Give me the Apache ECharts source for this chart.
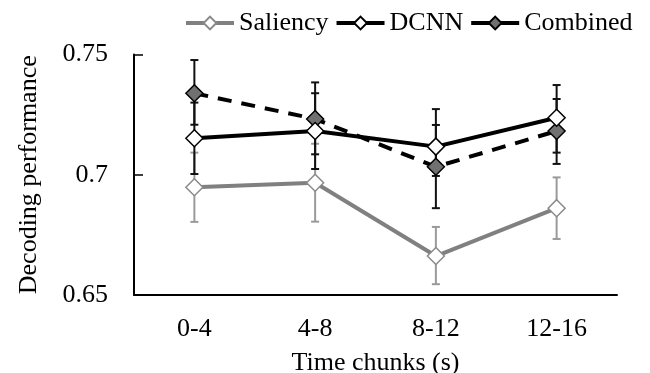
<!DOCTYPE html>
<html>
<head>
<meta charset="utf-8">
<script src="https://cdn.jsdelivr.net/npm/echarts@6/dist/echarts.min.js"></script>
<style>
  html, body { margin: 0; padding: 0; background: #fff; }
  #chart { width: 650px; height: 373px; }
</style>
</head>
<body>
<div id="chart"></div>
<script>
// data
const categories = ['0-4', '4-8', '8-12', '12-16'];

const saliency = [0.6948, 0.6967, 0.6662, 0.6861];
const saliencyLow = [0.6804, 0.6805, 0.6545, 0.6733];
const saliencyHigh = [0.7092, 0.7129, 0.6783, 0.6989];

const dcnn = [0.7152, 0.7182, 0.7117, 0.7237];
const dcnnLow = [0.7003, 0.7024, 0.6995, 0.7092];
const dcnnHigh = [0.7300, 0.7339, 0.7273, 0.7373];

const combined = [0.7339, 0.7232, 0.7033, 0.7182];
const combinedLow = [0.7208, 0.7085, 0.6861, 0.7045];
const combinedHigh = [0.7477, 0.7384, 0.7207, 0.7315];

const yTicks = { min: 0.65, max: 0.75, interval: 0.05 };

const FONT = '"Liberation Serif", "Times New Roman", serif';

function errorSeries(name, low, high, color) {
  return {
    type: 'custom',
    name: name + ' err',
    z: 1,
    silent: true,
    data: categories.map((c, i) => [i, low[i], high[i]]),
    renderItem: function (params, api) {
      const lo = api.coord([api.value(0), api.value(1)]);
      const hi = api.coord([api.value(0), api.value(2)]);
      const cap = 4;
      const style = { stroke: color, lineWidth: 2 };
      return {
        type: 'group',
        children: [
          { type: 'line', shape: { x1: lo[0], y1: lo[1], x2: hi[0], y2: hi[1] }, style },
          { type: 'line', shape: { x1: lo[0] - cap, y1: lo[1], x2: lo[0] + cap, y2: lo[1] }, style },
          { type: 'line', shape: { x1: hi[0] - cap, y1: hi[1], x2: hi[0] + cap, y2: hi[1] }, style }
        ]
      };
    }
  };
}

const chart = echarts.init(document.getElementById('chart'));

const option = {
  animation: false,
  backgroundColor: '#fff',
  textStyle: { fontFamily: FONT },
  legend: {
    left: 179,
    top: 5,
    itemGap: 6,
    itemWidth: 48,
    itemHeight: 16,
    textStyle: { fontFamily: FONT, fontSize: 26, color: '#000' },
    data: [
      { name: 'Saliency', lineStyle: { width: 4 } },
      { name: 'DCNN', lineStyle: { width: 4 } },
      { name: 'Combined', lineStyle: { type: 'solid', width: 4 } }
    ]
  },
  grid: { left: 134, right: 33, top: 54.5, bottom: 78, outerBoundsMode: 'none' },
  xAxis: {
    type: 'category',
    data: categories,
    boundaryGap: true,
    name: 'Time chunks (s)',
    nameLocation: 'middle',
    nameGap: 55,
    nameTextStyle: { fontFamily: FONT, fontSize: 26, color: '#000' },
    axisLine: { lineStyle: { color: '#000', width: 2 } },
    axisTick: { inside: true, length: 8, lineStyle: { color: '#000', width: 1.5 } },
    axisLabel: { fontFamily: FONT, fontSize: 26, color: '#000', margin: 21 },
    splitLine: { show: false }
  },
  yAxis: {
    type: 'value',
    min: yTicks.min,
    max: yTicks.max,
    interval: yTicks.interval,
    name: 'Decoding performance',
    nameLocation: 'middle',
    nameGap: 92,
    nameTextStyle: { fontFamily: FONT, fontSize: 26, color: '#000' },
    axisLine: { show: true, lineStyle: { color: '#000', width: 2 } },
    axisTick: { show: true, inside: true, length: 9, lineStyle: { color: '#000', width: 1.5 } },
    axisLabel: { fontFamily: FONT, fontSize: 26, color: '#000', margin: 26 },
    splitLine: { show: false }
  },
  series: [
    errorSeries('Saliency', saliencyLow, saliencyHigh, '#9a9a9a'),
    errorSeries('Combined', combinedLow, combinedHigh, '#111'),
    errorSeries('DCNN', dcnnLow, dcnnHigh, '#111'),
    {
      name: 'Saliency',
      type: 'line',
      z: 3,
      data: saliency,
      symbol: 'diamond',
      symbolSize: 17,
      lineStyle: { color: '#808080', width: 4 },
      itemStyle: { color: '#fff', borderColor: '#8a8a8a', borderWidth: 1.5 }
    },
    {
      name: 'Combined',
      type: 'line',
      z: 4,
      data: combined,
      symbol: 'diamond',
      symbolSize: 17,
      lineStyle: { color: '#000', width: 4, type: [14, 10] },
      itemStyle: { color: '#707070', borderColor: '#000', borderWidth: 1.5 }
    },
    {
      name: 'DCNN',
      type: 'line',
      z: 5,
      data: dcnn,
      symbol: 'diamond',
      symbolSize: 17,
      lineStyle: { color: '#000', width: 4 },
      itemStyle: { color: '#fff', borderColor: '#000', borderWidth: 1.5 }
    }
  ]
};

chart.setOption(option);
</script>
</body>
</html>
